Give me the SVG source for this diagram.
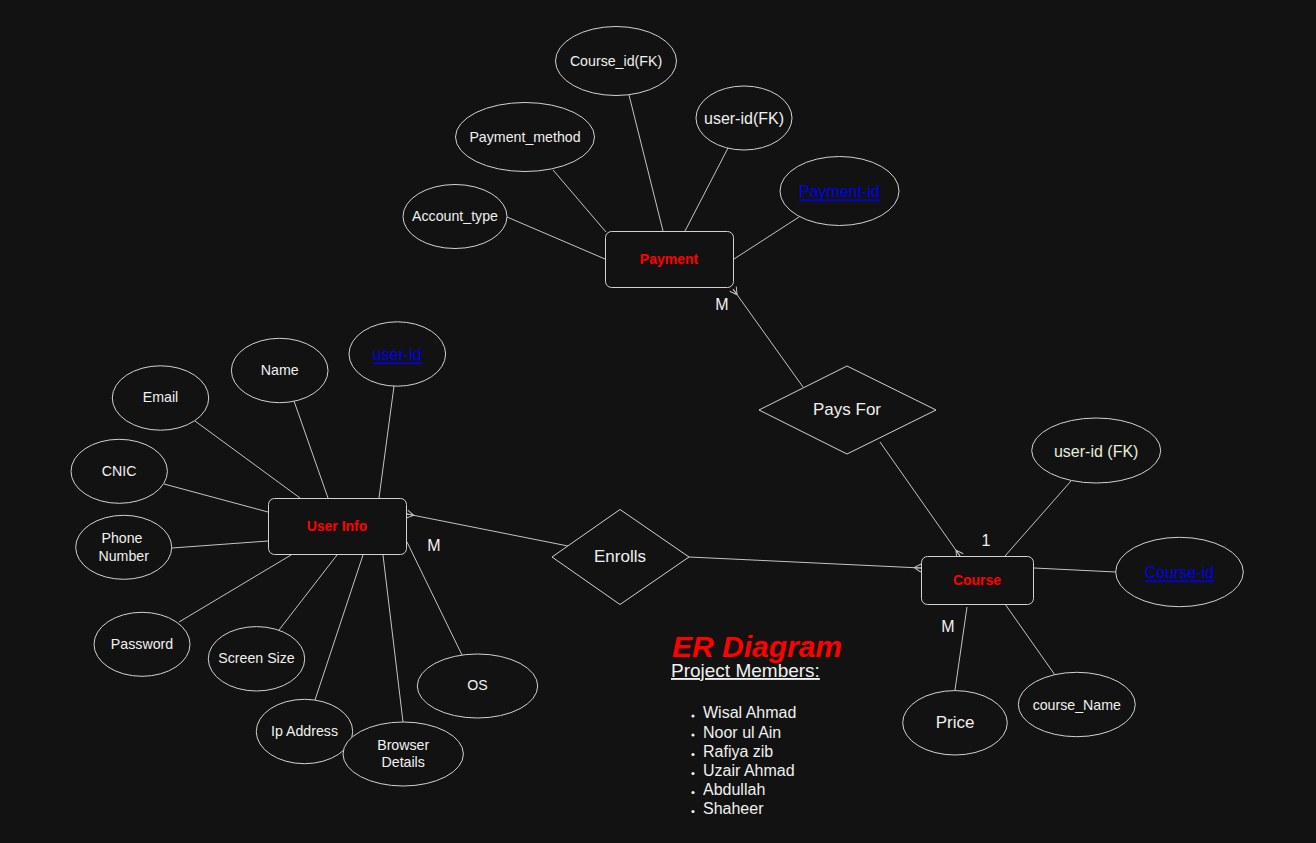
<svg xmlns="http://www.w3.org/2000/svg" width="1316" height="843" viewBox="0 0 1316 843">
<style>
.bg{fill:#121212}
.ent{fill:#121212;stroke:#d2d2d2;stroke-width:1}
.attr{fill:#121212;stroke:#d2d2d2;stroke-width:1}
.rel{fill:#121212;stroke:#d2d2d2;stroke-width:1}
.ln{stroke:#c4c4c4;stroke-width:1;fill:none}
text{font-family:"Liberation Sans",Arial,sans-serif;fill:#f0f0f0;text-anchor:middle;dominant-baseline:central}
.et{font-size:14px;font-weight:bold;fill:#ff0000}
.t14{font-size:14.2px}
.t16{font-size:16px}
.t17{font-size:17px}
.key{font-size:16px;fill:#0000ee;text-decoration:underline}
.card{font-size:16px}
.title{font-size:30px;font-weight:bold;font-style:italic;fill:#ff0000}
.pm{font-size:19px;text-decoration:underline;text-anchor:start;dominant-baseline:auto}
.li{font-size:16px;text-anchor:start;dominant-baseline:auto}
</style>
<defs>
<marker id="many" markerUnits="userSpaceOnUse" markerWidth="12" markerHeight="12" refX="8" refY="6" orient="auto" viewBox="0 0 12 12">
<path d="M1,6 L8,2 M1,6 L8,10 M1,6 L8,6" stroke="#c4c4c4" stroke-width="1" fill="none"/>
</marker>
</defs>
<rect class="bg" x="0" y="0" width="1316" height="843"/>

<g id="connectors">
<line class="ln" x1="507" y1="217" x2="605" y2="259"/>
<line class="ln" x1="553" y1="170" x2="606" y2="232"/>
<line class="ln" x1="629" y1="95" x2="663" y2="231"/>
<line class="ln" x1="728" y1="148" x2="685" y2="231"/>
<line class="ln" x1="799" y1="217" x2="734" y2="259"/>
<line class="ln" x1="394" y1="386" x2="379" y2="498"/>
<line class="ln" x1="294" y1="401" x2="328" y2="498"/>
<line class="ln" x1="195" y1="421" x2="300" y2="498"/>
<line class="ln" x1="164" y1="484" x2="268" y2="512"/>
<line class="ln" x1="172" y1="548" x2="268" y2="541"/>
<line class="ln" x1="179" y1="622" x2="291" y2="555"/>
<line class="ln" x1="279" y1="630" x2="337" y2="555"/>
<line class="ln" x1="315" y1="700" x2="363" y2="555"/>
<line class="ln" x1="403" y1="722" x2="383" y2="555"/>
<line class="ln" x1="462" y1="655" x2="407" y2="542"/>
<line class="ln" x1="1071" y1="481" x2="1005" y2="556"/>
<line class="ln" x1="1034" y1="568" x2="1116" y2="572"/>
<line class="ln" x1="1005" y1="604" x2="1055" y2="675"/>
<line class="ln" x1="967" y1="607" x2="955" y2="690"/>
<line class="ln" x1="803" y1="387" x2="733" y2="289" marker-end="url(#many)"/>
<line class="ln" x1="880" y1="442" x2="960" y2="556" marker-end="url(#many)"/>
<line class="ln" x1="568" y1="546" x2="407" y2="514" marker-end="url(#many)"/>
<line class="ln" x1="689" y1="557" x2="921" y2="568" marker-end="url(#many)"/>
</g>

<g id="payment">
<rect class="ent" x="605.5" y="231.5" width="128" height="56" rx="6"/>
<text class="et" x="669" y="259">Payment</text>
</g>
<g id="course_id_fk">
<ellipse class="attr" cx="616" cy="61" rx="60.5" ry="34.5"/>
<text class="t14" x="616" y="61">Course_id(FK)</text>
</g>
<g id="payment_method">
<ellipse class="attr" cx="525" cy="137" rx="69.5" ry="34.5"/>
<text class="t14" x="525" y="137">Payment_method</text>
</g>
<g id="user_id_fk_pay">
<ellipse class="attr" cx="744" cy="118" rx="48" ry="32"/>
<text class="t16" x="744" y="118">user-id(FK)</text>
</g>
<g id="payment_id">
<ellipse class="attr" cx="839.5" cy="191" rx="59.5" ry="34.5"/>
<text class="key" x="839.5" y="191">Payment-id</text>
</g>
<g id="account_type">
<ellipse class="attr" cx="455" cy="216.5" rx="52" ry="32"/>
<text class="t14" x="455" y="216">Account_type</text>
</g>

<g id="user_info">
<rect class="ent" x="268.5" y="498.5" width="138" height="56" rx="6"/>
<text class="et" x="337" y="526">User Info</text>
</g>
<g id="user_id">
<ellipse class="attr" cx="397.3" cy="354" rx="48.3" ry="32.2"/>
<text class="key" x="397.3" y="354">user-id</text>
</g>
<g id="name">
<ellipse class="attr" cx="279.7" cy="370.5" rx="48.3" ry="32.2"/>
<text class="t14" x="279.7" y="370">Name</text>
</g>
<g id="email">
<ellipse class="attr" cx="160.5" cy="398" rx="48.2" ry="32.2"/>
<text class="t14" x="160.5" y="397">Email</text>
</g>
<g id="cnic">
<ellipse class="attr" cx="119.2" cy="471.3" rx="48.2" ry="32"/>
<text class="t14" x="119.2" y="471">CNIC</text>
</g>
<g id="phone">
<ellipse class="attr" cx="123.7" cy="547.3" rx="48" ry="32"/>
<text class="t14" x="122" y="538">Phone</text>
<text class="t14" x="123.7" y="556">Number</text>
</g>
<g id="password">
<ellipse class="attr" cx="142" cy="644.3" rx="48" ry="32"/>
<text class="t14" x="142" y="644">Password</text>
</g>
<g id="screen_size">
<ellipse class="attr" cx="256.5" cy="658.8" rx="48.2" ry="32.2"/>
<text class="t14" x="256.5" y="658">Screen Size</text>
</g>
<g id="ip_address">
<ellipse class="attr" cx="304.5" cy="731.5" rx="48.2" ry="32.2"/>
<text class="t14" x="304.5" y="731">Ip Address</text>
</g>
<g id="browser_details">
<ellipse class="attr" cx="403.2" cy="754" rx="60.2" ry="32"/>
<text class="t14" x="403.2" y="745">Browser</text>
<text class="t14" x="403.2" y="762">Details</text>
</g>
<g id="os">
<ellipse class="attr" cx="477.5" cy="686" rx="60.2" ry="32"/>
<text class="t14" x="477.5" y="685">OS</text>
</g>

<g id="course">
<rect class="ent" x="921.5" y="556.5" width="112" height="48" rx="6"/>
<text class="et" x="977" y="580">Course</text>
</g>
<g id="user_id_fk_course">
<ellipse class="attr" cx="1096.2" cy="450.5" rx="64.5" ry="32.5"/>
<text class="t16" x="1096.2" y="451" style="fill:#e4eedc">user-id (FK)</text>
</g>
<g id="course_id">
<ellipse class="attr" cx="1179.5" cy="572" rx="63.8" ry="34.7"/>
<text class="key" x="1179.5" y="572">Course-id</text>
</g>
<g id="course_name">
<ellipse class="attr" cx="1076.8" cy="704.5" rx="58.5" ry="32.2"/>
<text class="t14" x="1076.8" y="705">course_Name</text>
</g>
<g id="price">
<ellipse class="attr" cx="955" cy="722.8" rx="52.3" ry="32.2"/>
<text class="t17" x="955" y="722">Price</text>
</g>

<g id="pays_for">
<polygon class="rel" points="759,410 847,366 936,410 847,454"/>
<text class="t17" x="847" y="409">Pays For</text>
</g>
<g id="enrolls">
<polygon class="rel" points="552,557 620,509.5 689,557 620,604.5"/>
<text class="t17" x="620" y="556">Enrolls</text>
</g>

<g id="cardinalities">
<text class="card" x="722" y="304">M</text>
<text class="card" x="434" y="545">M</text>
<text class="card" x="986" y="540">1</text>
<text class="card" x="948" y="626">M</text>
</g>

<g id="legend">
<text class="title" x="757" y="646">ER Diagram</text>
<text class="pm" x="671" y="677">Project Members:</text>
<g fill="#f0f0f0">
<circle cx="693" cy="716" r="1.6"/>
<circle cx="693" cy="735" r="1.6"/>
<circle cx="693" cy="754.5" r="1.6"/>
<circle cx="693" cy="773.5" r="1.6"/>
<circle cx="693" cy="792.5" r="1.6"/>
<circle cx="693" cy="811.5" r="1.6"/>
</g>
<text class="li" x="703" y="718">Wisal Ahmad</text>
<text class="li" x="703" y="737.5">Noor ul Ain</text>
<text class="li" x="703" y="757">Rafiya zib</text>
<text class="li" x="703" y="776">Uzair Ahmad</text>
<text class="li" x="703" y="795">Abdullah</text>
<text class="li" x="703" y="814">Shaheer</text>
</g>
</svg>
